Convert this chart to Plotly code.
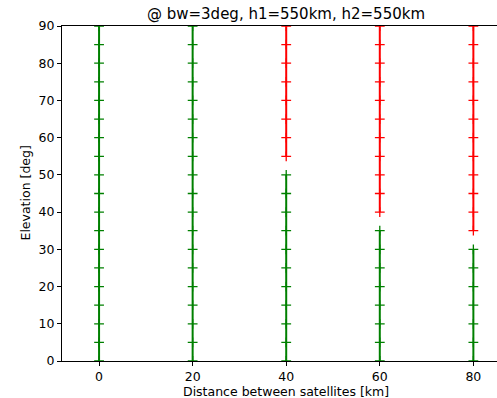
import plotly.graph_objects as go

distances = [0, 20, 40, 60, 80]
green_top = [90, 90, 50, 35, 30]     # highest elevation of green segment
red_bottom = [None, None, 55, 40, 35]  # lowest elevation of red segment
elev_step = 5
elev_max = 90

title = "@ bw=3deg, h1=550km, h2=550km"
x_title = "Distance between satellites [km]"
y_title = "Elevation [deg]"

fig = go.Figure()
for d, gt, rb in zip(distances, green_top, red_bottom):
    gy = list(range(0, gt + 1, elev_step))
    fig.add_trace(go.Scatter(x=[d] * len(gy), y=gy, mode="lines+markers",
                             line=dict(color="green", width=2),
                             marker=dict(symbol="cross-thin", size=7,
                                         line=dict(color="green", width=1.3)),
                             showlegend=False))
    if rb is not None:
        ry = list(range(rb, elev_max + 1, elev_step))
        fig.add_trace(go.Scatter(x=[d] * len(ry), y=ry, mode="lines+markers",
                                 line=dict(color="red", width=2),
                                 marker=dict(symbol="cross-thin", size=7,
                                             line=dict(color="red", width=1.3)),
                                 showlegend=False))

font = "DejaVu Sans"
fig.update_layout(
    width=497, height=398,
    margin=dict(l=62, r=0, t=26, b=37, autoexpand=False),
    plot_bgcolor="white", paper_bgcolor="white",
    font=dict(family=font, size=12.5, color="black"),
    title=dict(text=title, x=286 / 497, xanchor="center", y=1 - 14 / 398,
               yanchor="middle", font=dict(size=15, family=font, color="black")),
    annotations=[
        dict(text=x_title, xref="paper", yref="paper", x=(286 - 62) / 435,
             y=-30 / 335, xanchor="center", yanchor="middle", showarrow=False,
             font=dict(size=12.5, family=font, color="black")),
        dict(text=y_title, xref="paper", yref="paper", x=-37 / 435, y=0.5,
             xanchor="center", yanchor="middle", textangle=-90, showarrow=False,
             font=dict(size=12.5, family=font, color="black")),
    ],
)
fig.update_xaxes(range=[-7.92, 85.05], tickvals=distances, ticks="outside",
                 ticklen=4, tickcolor="black", showline=True, linecolor="black",
                 linewidth=1, mirror=True, showgrid=False, zeroline=False,
                 automargin=False, tickfont=dict(size=12.5))
fig.update_yaxes(range=[0, 90], tickvals=list(range(0, 91, 10)), ticks="outside",
                 ticklen=4, tickcolor="black", showline=True, linecolor="black",
                 linewidth=1, showgrid=False, zeroline=False,
                 automargin=False, tickfont=dict(size=12.5))

fig.write_html("out.html", config={"displayModeBar": False},
               post_script="document.body.style.margin='0px';document.body.style.overflow='hidden';")
